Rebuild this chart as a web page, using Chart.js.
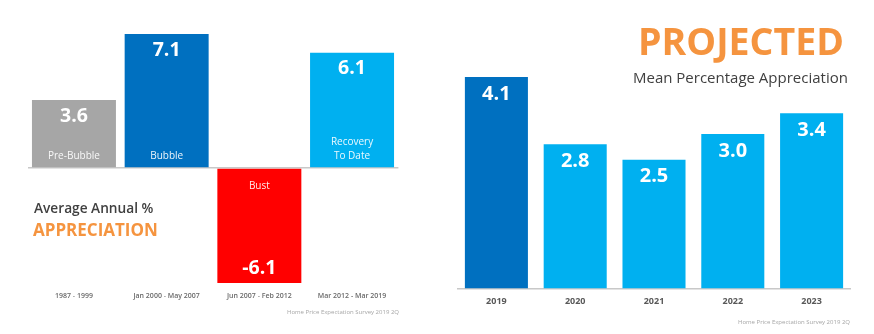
<!DOCTYPE html>
<html>
<head>
<meta charset="utf-8">
<script src="https://cdn.jsdelivr.net/npm/chart.js@4/dist/chart.umd.min.js"></script>
<style>
  html, body { margin: 0; padding: 0; background: #ffffff; }
  #stage { position: relative; width: 874px; height: 334px; overflow: hidden; font-family: "Open Sans", sans-serif; }
  canvas { position: absolute; top: 0; }
  #histCanvas { left: 0; }
  #projCanvas { left: 440px; }
  .txt { position: absolute; white-space: nowrap; line-height: 1; }
  #avgTitle { left: 34px; top: 201px; font-size: 13.7px; font-weight: 600; color: #404040; }
  #apprTitle { left: 33px; top: 221px; font-size: 17px; font-weight: 700; color: #f5943f; }
  #projTitle { left: 638px; top: 22px; font-size: 37.5px; font-weight: 700; color: #f5943f; }
  #projSub { left: 633px; top: 70px; font-size: 15px; font-weight: 400; color: #404040; }
  .source { font-size: 6px; color: #a6a6a6; }
  #srcLeft { left: 287px; top: 309px; }
  #srcRight { left: 738px; top: 319px; }
</style>
</head>
<body>
<div id="stage">
  <canvas id="histCanvas" width="440" height="334"></canvas>
  <canvas id="projCanvas" width="434" height="334"></canvas>
  <div class="txt" id="avgTitle">Average Annual %</div>
  <div class="txt" id="apprTitle">APPRECIATION</div>
  <div class="txt" id="projTitle">PROJECTED</div>
  <div class="txt" id="projSub">Mean Percentage Appreciation</div>
  <div class="txt source" id="srcLeft">Home Price Expectation Survey 2019 2Q</div>
  <div class="txt source" id="srcRight">Home Price Expectation Survey 2019 2Q</div>
</div>
<script>
// Historical market phases
const periodLabels = ['1987 - 1999', 'Jan 2000 - May 2007', 'Jun 2007 - Feb 2012', 'Mar 2012 - Mar 2019'];
const phaseNames = [['Pre-Bubble'], ['Bubble'], ['Bust'], ['Recovery', 'To Date']];
const historicalValues = [3.6, 7.1, -6.1, 6.1];
const historicalColors = ['#a6a6a6', '#0070c0', '#ff0000', '#00b0f0'];

// Projected yearly appreciation
const projectionYears = ['2019', '2020', '2021', '2022', '2023'];
const projectedValues = [4.1, 2.8, 2.5, 3.0, 3.4];
const projectedColors = ['#0070c0', '#00b0f0', '#00b0f0', '#00b0f0', '#00b0f0'];

const FONT = '"Open Sans", sans-serif';

// Writes the value (and optional phase name) inside each bar
function barTextPlugin(names, valueFont, valueOffset) {
  return {
    id: 'barText',
    afterDatasetsDraw(chart) {
      const ctx = chart.ctx;
      const meta = chart.getDatasetMeta(0);
      const data = chart.data.datasets[0].data;
      ctx.save();
      ctx.fillStyle = '#ffffff';
      ctx.textAlign = 'center';
      ctx.textBaseline = 'middle';
      meta.data.forEach((bar, i) => {
        const v = data[i];
        const negative = v < 0;
        ctx.font = valueFont;
        const vy = negative ? bar.y - 15 : bar.y + valueOffset;
        ctx.fillText(v.toFixed(1), bar.x, vy);
        if (names) {
          ctx.font = '400 10px ' + FONT;
          ctx.fillStyle = 'rgba(255,255,255,0.92)';
          const lines = names[i];
          lines.forEach((line, k) => {
            let ly;
            if (negative) {
              ly = bar.base + 17 + k * 14;
            } else {
              ly = bar.base - 11 - (lines.length - 1 - k) * 14;
            }
            ctx.fillText(line, bar.x, ly);
          });
          ctx.fillStyle = '#ffffff';
        }
      });
      ctx.restore();
    }
  };
}

function zeroLineOnly(scale) {
  scale.ticks = [{ value: 0 }];
}

function makeOptions(cfg) {
  return {
    responsive: false,
    animation: false,
    events: [],
    layout: { padding: cfg.padding },
    plugins: { legend: { display: false }, tooltip: { enabled: false } },
    scales: {
      x: {
        grid: { display: false, drawTicks: false },
        border: { display: false },
        ticks: {
          color: cfg.tickColor,
          font: cfg.tickFont,
          padding: cfg.tickPadding,
          maxRotation: 0,
          autoSkip: false
        },
        afterFit(scale) { scale.height = cfg.axisHeight; }
      },
      y: {
        min: cfg.min,
        max: cfg.max,
        afterBuildTicks: zeroLineOnly,
        ticks: { display: false },
        border: { display: false },
        grid: { color: '#c8c8c8', lineWidth: 1.5, drawTicks: false },
        afterFit(scale) { scale.width = 0; }
      }
    }
  };
}

new Chart(document.getElementById('histCanvas'), {
  type: 'bar',
  data: {
    labels: periodLabels,
    datasets: [{
      data: historicalValues,
      backgroundColor: historicalColors,
      borderWidth: 0,
      categoryPercentage: 1,
      barPercentage: 0.906
    }]
  },
  options: makeOptions({
    padding: { left: 27.6, right: 41.6, top: 34, bottom: 0 },
    axisHeight: 51,
    min: -6.1,
    max: 7.1,
    tickColor: '#6a6a6a',
    tickFont: { family: FONT, size: 7, weight: '600' },
    tickPadding: 9
  }),
  plugins: [barTextPlugin(phaseNames, '700 19.5px ' + FONT, 16)]
});

new Chart(document.getElementById('projCanvas'), {
  type: 'bar',
  data: {
    labels: projectionYears,
    datasets: [{
      data: projectedValues,
      backgroundColor: projectedColors,
      borderWidth: 0,
      categoryPercentage: 1,
      barPercentage: 0.8
    }]
  },
  options: makeOptions({
    padding: { left: 17, right: 23, top: 77, bottom: 0 },
    axisHeight: 45,
    min: 0,
    max: 4.1,
    tickColor: '#595959',
    tickFont: { family: FONT, size: 9, weight: '700' },
    tickPadding: 7
  }),
  plugins: [barTextPlugin(null, '700 20px ' + FONT, 17)]
});
</script>
</body>
</html>
